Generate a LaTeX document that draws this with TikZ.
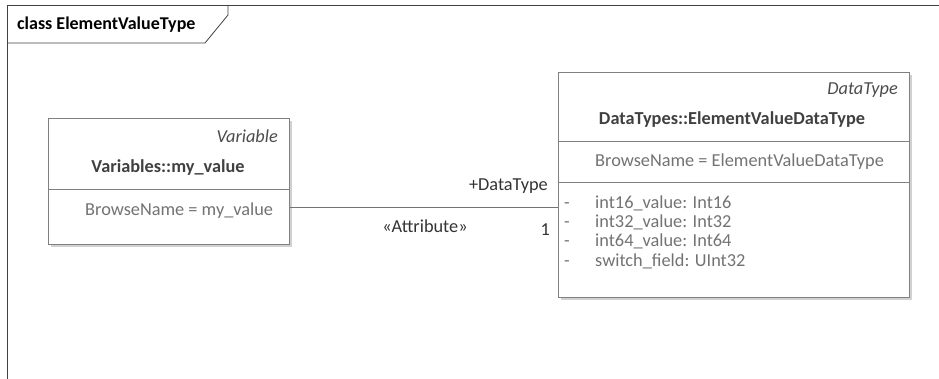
\documentclass[tikz,border=0pt]{standalone}
\usepackage{fontspec}
\setmainfont{Carlito}
\begin{document}
\begin{tikzpicture}[x=1pt,y=-1pt,
  frameline/.style={draw=black!75, line width=0.8pt},
  umlbox/.style={draw=black!50, line width=0.8pt, fill=white, inner sep=0pt, anchor=north west},
  shadowbox/.style={fill=black!18, draw=none, inner sep=0pt, anchor=north west},
  sep/.style={draw=black!50, line width=0.8pt},
  stereo/.style={font=\fontsize{18.3}{21}\selectfont\itshape, text=black!70, inner sep=0pt},
  cname/.style={font=\fontsize{18.3}{21}\selectfont\bfseries, text=black!75, inner sep=0pt},
  attr/.style={font=\fontsize{18.3}{21}\selectfont, text=black!55, inner sep=0pt},
  lbl/.style={font=\fontsize{18.3}{21}\selectfont, text=black!80, inner sep=0pt},
  conn/.style={draw=black!55, line width=0.8pt}
]
\useasboundingbox (0,0) rectangle (939,379);
% frame
\draw[frameline] (7,379) -- (7,5) -- (939,5);
\draw[frameline] (7,43) -- (205,43) -- (228,15) -- (228,5);
\node[font=\fontsize{18}{21}\selectfont\bfseries, inner sep=0pt, anchor=west] (title) at (17,25) {class ElementValueType};

% left box
\node[shadowbox, minimum width=241pt, minimum height=126pt] (lshadow) at (51,121) {};
\node[umlbox, minimum width=241pt, minimum height=126pt] (lbox) at (48,118) {};
\draw[sep] (48,189) -- (289,189);
\node[stereo, anchor=east] (lstereo) at (278,136) {Variable};
\node[cname] (lname) at (168,168) {Variables::my\_value};
\node[attr, anchor=west] (lattr) at (85,211) {BrowseName = my\_value};

% right box
\node[shadowbox, minimum width=351pt, minimum height=225pt] (rshadow) at (561,75) {};
\node[umlbox, minimum width=351pt, minimum height=225pt] (rbox) at (558,72) {};
\draw[sep] (558,141) -- (909,141);
\draw[sep] (558,182) -- (909,182);
\node[stereo, anchor=east] (rstereo) at (898,90) {DataType};
\node[cname] (rname) at (732,120) {DataTypes::ElementValueDataType};
\node[attr, anchor=west] (rbrowse) at (595,162) {BrowseName = ElementValueDataType};
\foreach \i/\t/\yy in {a/int16\_value: Int16/209, b/int32\_value: Int32/228, c/int64\_value: Int64/247, d/switch\_field: UInt32/266}{
  \node[attr, anchor=base west] (dash\i) at (564,\yy) {-};
  \node[attr, anchor=base west] (att\i) at (595,\yy) {\t};
}

% connector
\coordinate (cy) at (0,207);
\draw[conn] (lbox.east |- cy) -- (rbox.west |- cy);
\node[lbl, anchor=east] (role) at (548,186) {+DataType};
\node[lbl] (stype) at (425,226) {«Attribute»};
\node[lbl, anchor=east] (mult) at (550,230) {1};
\end{tikzpicture}
\end{document}
